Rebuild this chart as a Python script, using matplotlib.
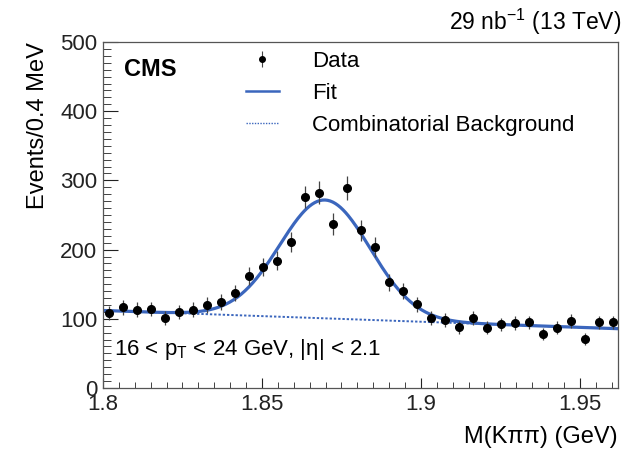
import numpy as np
import matplotlib
matplotlib.use("Agg")
import matplotlib.pyplot as plt
from matplotlib.ticker import MultipleLocator
from matplotlib.lines import Line2D
from matplotlib.legend_handler import HandlerTuple

plt.rcParams['font.family'] = ['Liberation Sans', 'DejaVu Sans']
plt.rcParams['mathtext.fontset'] = 'custom'
plt.rcParams['mathtext.rm'] = 'Liberation Sans'
plt.rcParams['mathtext.it'] = 'Liberation Sans'

# bin centres (GeV) and counts
mass = [1.8020, 1.8064, 1.8108, 1.8152, 1.8196, 1.8240, 1.8284, 1.8328,
        1.8372, 1.8416, 1.8460, 1.8504, 1.8548, 1.8592, 1.8636, 1.8680,
        1.8724, 1.8768, 1.8812, 1.8856, 1.8900, 1.8944, 1.8988, 1.9032,
        1.9076, 1.9120, 1.9164, 1.9208, 1.9252, 1.9296, 1.9340, 1.9384,
        1.9428, 1.9472, 1.9516, 1.9560, 1.9604]
counts = [108, 117, 113, 114, 101, 110, 113, 120,
          124, 137, 162, 175, 184, 211, 276, 282,
          237, 289, 228, 204, 153, 140, 121, 101,
          98, 88, 101, 87, 92, 94, 95, 78,
          87, 97, 71, 95, 95]

# fit parameters
peak_mean = 1.8698
peak_sigma = 0.0142
peak_amp = 171.0
bkg_at_start = 112.0
bkg_slope = -162.5

blue = '#3b66bd'


def background(x):
    return bkg_at_start + bkg_slope * (x - 1.8)


def fit(x):
    return background(x) + peak_amp * np.exp(-0.5 * ((x - peak_mean) / peak_sigma) ** 2)


def main():
    fig = plt.figure(figsize=(6.27, 4.54), dpi=100)
    ax = fig.add_axes([0.1643, 0.1454, 0.8213, 0.7621])

    xs = np.linspace(1.8, 1.962, 400)
    ax.plot(xs, background(xs), color=blue, lw=1.4, ls=(0, (1.2, 1.0)))
    ax.plot(xs, fit(xs), color=blue, lw=2.3)
    ax.errorbar(mass, counts, yerr=np.sqrt(counts), fmt='o', color='black',
                ms=5.5, elinewidth=0.9, ecolor='#444444', capsize=0)

    ax.set_xlim(1.8, 1.962)
    ax.set_ylim(0, 500)
    ax.xaxis.set_minor_locator(MultipleLocator(0.005))
    ax.yaxis.set_major_locator(MultipleLocator(100))
    ax.yaxis.set_minor_locator(MultipleLocator(10))
    ax.set_xticks([1.8, 1.85, 1.9, 1.95])
    ax.set_xticklabels(['1.8', '1.85', '1.9', '1.95'])
    ax.tick_params(which='both', direction='in', top=False, right=False,
                   labelsize=16, colors='#222222', pad=4)
    ax.tick_params(axis='x', which='major', length=7, width=0.8)
    ax.tick_params(axis='x', which='minor', length=4, width=0.6)
    ax.tick_params(axis='y', which='major', length=11, width=0.8)
    ax.tick_params(axis='y', which='minor', length=5.5, width=0.6)
    for sp in ax.spines.values():
        sp.set_color('#555555')
        sp.set_linewidth(0.9)

    ax.set_xlabel('M(Kππ) (GeV)', fontsize=17, ha='right', x=1.0, labelpad=8)
    ax.set_ylabel('Events/0.4 MeV', fontsize=17, ha='right', y=1.0, labelpad=8)

    ax.text(0.04, 0.955, 'CMS', transform=ax.transAxes, fontsize=17,
            fontweight='bold', va='top')
    fig.text(0.99, 0.935, '29 nb$^{-1}$ (13 TeV)', fontsize=16.5, ha='right',
             va='baseline')
    ax.text(0.022, 0.095, '16 < p$_{\\mathregular{T}}$ < 24 GeV, |η| < 2.1',
            transform=ax.transAxes, fontsize=16, va='baseline')

    data_handle = (Line2D([], [], color='#444444', marker='|', ms=11, mew=0.8, ls='none'),
                   Line2D([], [], color='black', marker='o', ms=4, ls='none'))
    handles = [
        data_handle,
        Line2D([], [], color=blue, lw=1.8),
        Line2D([], [], color=blue, lw=1.0, ls=(0, (1, 1))),
    ]
    labels = ['Data', 'Fit', 'Combinatorial Background']
    ax.legend(handles, labels, loc='upper left', bbox_to_anchor=(0.238, 1.033),
              frameon=False, fontsize=16, handlelength=1.5, labelspacing=0.5,
              handletextpad=1.5, handler_map={tuple: HandlerTuple(ndivide=1)})

    fig.savefig('out.png', dpi=100)


if __name__ == '__main__':
    main()
